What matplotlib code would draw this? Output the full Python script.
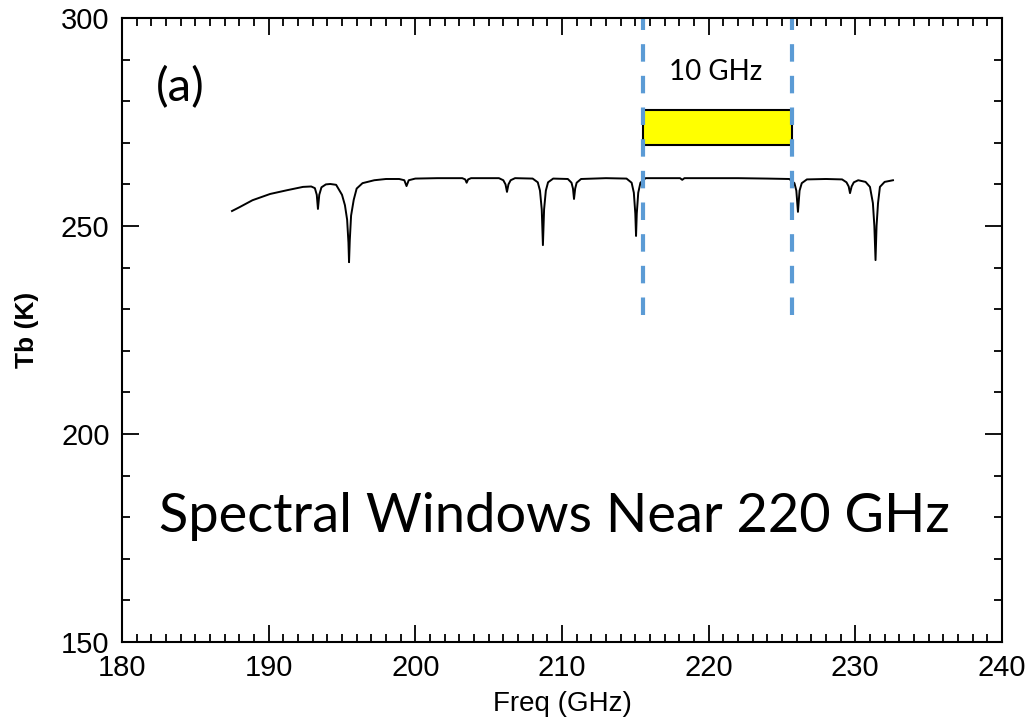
import numpy as np
import matplotlib
matplotlib.use("Agg")
import matplotlib.pyplot as plt
from matplotlib.patches import Rectangle
from matplotlib.ticker import MultipleLocator

# spectrum (freq GHz, Tb K)
freq = [187.5, 188.0, 188.9, 190.1, 191.25, 192.34, 192.9, 193.15, 193.28, 193.36, 193.45, 193.6,
        193.9, 194.2, 194.6, 195.0, 195.2, 195.35, 195.44, 195.48, 195.53, 195.62, 195.8, 196.0,
        196.4, 197.2, 198.0, 198.9, 199.25, 199.4, 199.55, 200.0, 201.5, 203.2, 203.4, 203.5,
        203.6, 203.8, 205.7, 206.0, 206.15, 206.25, 206.35, 206.5, 206.8, 208.0, 208.35, 208.5,
        208.62, 208.7, 208.78, 208.9, 209.05, 209.4, 210.4, 210.65, 210.75, 210.82, 210.9, 211.0,
        211.3, 213.0, 214.4, 214.75, 214.9, 215.0, 215.05, 215.1, 215.2, 215.35, 215.7, 217.0,
        218.05, 218.2, 218.35, 220.0, 222.0, 224.0, 225.5, 225.85, 225.98, 226.09, 226.2, 226.35,
        226.7, 228.0, 229.1, 229.4, 229.55, 229.64, 229.75, 229.9, 230.2, 230.7, 231.0, 231.2,
        231.3, 231.38, 231.45, 231.55, 231.68, 232.0, 232.57]
tb = [253.6, 254.5, 256.2, 257.7, 258.6, 259.4, 259.5, 259.1, 257.5, 254.1, 257.5, 259.3,
      260.0, 260.1, 259.9, 257.5, 255.0, 251.5, 246.0, 241.3, 246.5, 252.5, 256.3, 259.0,
      260.3, 261.0, 261.3, 261.3, 261.0, 259.6, 261.0, 261.4, 261.5, 261.5, 261.2, 260.4,
      261.2, 261.5, 261.5, 261.0, 260.0, 258.2, 260.0, 261.0, 261.5, 261.4, 260.5, 258.5,
      254.0, 245.4, 254.0, 258.5, 260.5, 261.4, 261.3, 260.4, 259.0, 256.5, 259.0, 260.4,
      261.3, 261.5, 261.4, 260.4, 258.0, 253.0, 247.6, 253.0, 258.0, 260.4, 261.5, 261.5,
      261.5, 261.1, 261.5, 261.5, 261.5, 261.4, 261.3, 260.3, 258.5, 253.4, 258.5, 260.3,
      261.2, 261.3, 261.2, 260.5, 259.5, 257.9, 259.5, 260.5, 261.0, 260.6, 259.4, 255.5,
      250.0, 241.8, 250.0, 255.5, 259.4, 260.6, 261.0]

window = [215.5, 225.7]
bar_lo, bar_hi = 269.5, 278.0

fig = plt.figure(figsize=(10.34, 7.22), dpi=100)
ax = fig.add_axes([0.118, 0.111, 0.851, 0.864])

ax.plot(freq, tb, color="black", lw=1.4)

for x in window:
    ax.plot([x, x], [228.5, 300], color="#5b9bd5", lw=3, dashes=(4.2, 3.4))

ax.add_patch(Rectangle((window[0], bar_lo), window[1] - window[0], bar_hi - bar_lo,
                       facecolor="#ffff00", edgecolor="black", lw=1.5, zorder=1))

ax.text(220.5, 285.1, "10 GHz", family="Lato", fontsize=20, ha="center", va="baseline")
ax.text(184.0, 280.0, "(a)", family="Lato", fontsize=34, ha="center", va="baseline")
ax.text(209.5, 176.4, "Spectral Windows Near 220 GHz", family="Lato", fontsize=39,
        ha="center", va="baseline")

ax.set_xlim(180, 240)
ax.set_ylim(150, 300)
ax.xaxis.set_major_locator(MultipleLocator(10))
ax.xaxis.set_minor_locator(MultipleLocator(1))
ax.yaxis.set_major_locator(MultipleLocator(50))
ax.yaxis.set_minor_locator(MultipleLocator(10))
ax.tick_params(which="both", direction="in", top=True, right=True, width=1.3,
               labelsize=21, labelfontfamily="Liberation Sans")
ax.tick_params(which="major", length=12, pad=9)
ax.tick_params(which="minor", length=6)
for s in ax.spines.values():
    s.set_linewidth(1.5)

ax.set_xlabel("Freq (GHz)", family="Liberation Sans", fontsize=20, labelpad=6)
ax.set_ylabel("Tb (K)", family="Liberation Sans", fontsize=19, fontweight="bold", labelpad=16)

fig.savefig("out.png", dpi=100)
